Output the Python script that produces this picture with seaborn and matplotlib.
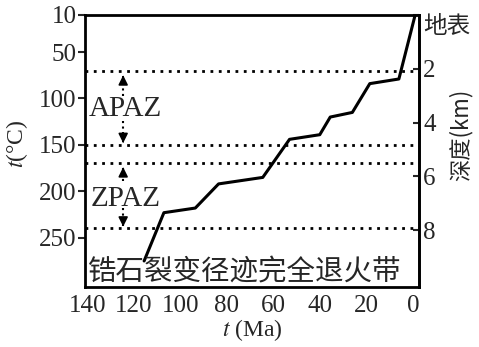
import numpy as np
import pandas as pd
import seaborn as sns
import matplotlib.pyplot as plt

# thermal history path (time in Ma, temperature in C)
time_ma = [115.5, 107, 93.5, 83.5, 64.5, 53, 40, 35.5, 26, 18.5, 6, -1]
temp_c = [275, 223, 218, 192, 185, 144, 139, 120, 115, 84, 79, 10]

# partial annealing zone bounds (C)
pad_bounds = [70, 150, 170, 240]

x_ticks = [140, 120, 100, 80, 60, 40, 20, 0]
y_ticks = [10, 50, 100, 150, 200, 250]
depth_ticks = [0, 2, 4, 6, 8]
depth_labels = ['地表', '2', '4', '6', '8']

serif = ['Liberation Serif', 'Noto Sans CJK SC']
cjk = ['Noto Sans CJK SC', 'DejaVu Sans']

sns.set_style('ticks')
plt.rcParams['font.family'] = serif
plt.rcParams['mathtext.fontset'] = 'stix'

df = pd.DataFrame({'t': time_ma, 'T': temp_c})

fig = plt.figure(figsize=(4.79, 3.47), dpi=100)
ax = fig.add_axes([0.1775, 0.173, 0.697, 0.784])

sns.lineplot(data=df, x='t', y='T', color='black', lw=2.2, sort=False, ax=ax)

for b in pad_bounds:
    ax.axhline(b, color='black', lw=2, ls=(0, (1, 2)))

ax.set_xlim(140.9, -2.6)
ax.set_ylim(303, 10)
ax.set_xticks(x_ticks)
ax.set_yticks(y_ticks)
ax.tick_params(axis='x', length=0, labelsize=18, pad=6)
ax.tick_params(axis='y', length=5, width=1.5, labelsize=18, pad=1)
for s in ax.spines.values():
    s.set_visible(True)
    s.set_linewidth(2)
    s.set_color('black')

ax.set_xlabel('$t$ (Ma)', fontsize=17, labelpad=0)
ax.set_ylabel('')
fig.text(0.035, 0.585, '$t$(°C)', rotation=90, fontsize=17, ha='center', va='center')

# depth axis on the right (about 29 C per km, 10 C at surface)
sec = ax.secondary_yaxis('right', functions=(lambda T: (T - 10) / 29.0,
                                             lambda d: d * 29.0 + 10))
sec.set_yticks(depth_ticks)
sec.set_yticklabels(depth_labels)
sec.tick_params(length=4, width=1.5, direction='in', labelsize=18, pad=3)
sec.spines['right'].set_linewidth(2)
for lab in sec.get_yticklabels():
    if lab.get_text() == '地表':
        lab.set_family(cjk)
        lab.set_fontsize(17)
        lab.set_va('top')
fig.text(0.962, 0.61, '深度(km)', rotation=90, fontsize=16, ha='center', va='center',
         family=['Noto Sans CJK SC', 'DejaVu Sans'])

# zone labels and arrows
arrow_x = 124.5
zones = [('APAZ', 111, 97, 72, 124, 151), ('ZPAZ', 208, 189, 171, 218, 241)]
for name, ty, up0, up1, dn0, dn1 in zones:
    ax.text(123.5, ty, name, fontsize=21, ha='center', va='center')
    ax.plot([arrow_x, arrow_x], [up0, up1 + 4], color='black', lw=1.5, ls=':')
    ax.plot([arrow_x, arrow_x], [dn0, dn1 - 4], color='black', lw=1.5, ls=':')
    ax.annotate('', xy=(arrow_x, up1), xytext=(arrow_x, up1 + 8),
                arrowprops=dict(arrowstyle='-|>', color='black', lw=1.2, mutation_scale=14))
    ax.annotate('', xy=(arrow_x, dn1), xytext=(arrow_x, dn1 - 8),
                arrowprops=dict(arrowstyle='-|>', color='black', lw=1.2, mutation_scale=14))

ax.text(139.5, 287, '锆石裂变径迹完全退火带', fontsize=20.5, ha='left', va='center',
        family=cjk)

fig.savefig('out.png', dpi=100)
